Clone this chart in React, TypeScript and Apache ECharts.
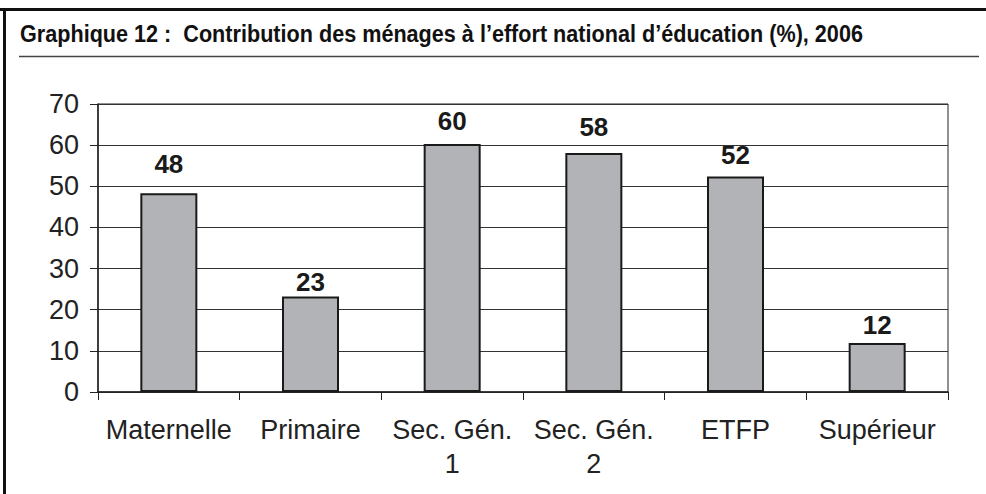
import React, { useEffect, useRef } from "react";
import * as echarts from "echarts";

const categories = ["Maternelle", "Primaire", "Sec. Gén.\n1", "Sec. Gén.\n2", "ETFP", "Supérieur"];
const values = [48.3, 23.2, 60.3, 58.1, 52.4, 11.9];
const yTicks = [0, 10, 20, 30, 40, 50, 60, 70];
const labelDistances = [16, 2, 10, 13, 8, 5];
const titleText = "Graphique 12 :  Contribution des ménages à l\u2019effort national d\u2019éducation (%), 2006";

const TITLE_FONT = "bold 24px 'Liberation Sans Narrow', 'Liberation Sans', sans-serif";
const TITLE_TARGET_WIDTH = 843;

function measure(text: string, font: string): number {
  const c = document.createElement("canvas");
  const ctx = c.getContext("2d");
  if (!ctx) return TITLE_TARGET_WIDTH;
  ctx.font = font;
  return ctx.measureText(text).width || TITLE_TARGET_WIDTH;
}

export default function App() {
  const ref = useRef<HTMLDivElement>(null);
  useEffect(() => {
    if (!ref.current) return;
    const chart = echarts.init(ref.current, null, { renderer: "svg" });
    const titleScale = TITLE_TARGET_WIDTH / measure(titleText, TITLE_FONT);
    const axisFont = "Liberation Sans, Arial, Helvetica, sans-serif";
    chart.setOption({
      animation: false,
      backgroundColor: "#ffffff",
      grid: {
        left: 98,
        right: 38,
        top: 104,
        bottom: 102,
        show: true,
        borderColor: "#222",
        borderWidth: 1,
      },
      xAxis: {
        type: "category",
        data: categories,
        axisLine: { lineStyle: { color: "#222", width: 1.5 } },
        axisTick: { show: true, length: 8, lineStyle: { color: "#222" } },
        axisLabel: {
          interval: 0,
          fontFamily: axisFont,
          fontSize: 27,
          color: "#222",
          lineHeight: 34,
          margin: 21,
        },
      },
      yAxis: {
        type: "value",
        min: yTicks[0],
        max: yTicks[yTicks.length - 1],
        interval: 10,
        axisLine: { show: true, lineStyle: { color: "#222", width: 1.5 } },
        axisTick: { show: true, length: 8, lineStyle: { color: "#222" } },
        splitLine: { show: true, lineStyle: { color: "#333", width: 1 } },
        axisLabel: {
          fontFamily: axisFont,
          fontSize: 27,
          color: "#222",
          margin: 19,
        },
      },
      series: [
        {
          type: "bar",
          barWidth: 57,
          data: values.map((v, i) => ({
            value: v,
            label: { distance: labelDistances[i] },
          })),
          itemStyle: { color: "#b2b3b7", borderColor: "#1a1a1a", borderWidth: 2 },
          label: {
            show: true,
            position: "top",
            formatter: (p: any) => String(Math.round(p.value)),
            fontFamily: axisFont,
            fontWeight: "bold",
            fontSize: 26,
            color: "#1a1a1a",
          },
        },
      ],
      graphic: [
        {
          type: "line",
          shape: { x1: 0, y1: 9.5, x2: 986, y2: 9.5 },
          style: { stroke: "#111", lineWidth: 3 },
          silent: true,
        },
        {
          type: "line",
          shape: { x1: 4.5, y1: 8, x2: 4.5, y2: 494 },
          style: { stroke: "#111", lineWidth: 3 },
          silent: true,
        },
        {
          type: "line",
          shape: { x1: 19, y1: 56.5, x2: 979, y2: 56.5 },
          style: { stroke: "#444", lineWidth: 1.5 },
          silent: true,
        },
        {
          type: "text",
          x: 20,
          y: 22,
          scaleX: titleScale,
          style: {
            text: titleText,
            font: TITLE_FONT,
            fill: "#111",
            textVerticalAlign: "top",
            verticalAlign: "top",
          },
        },
      ],
    });
    return () => chart.dispose();
  }, []);
  return (
    <div
      ref={ref}
      style={{ position: "absolute", left: 0, top: 0, width: 986, height: 494 }}
    />
  );
}
